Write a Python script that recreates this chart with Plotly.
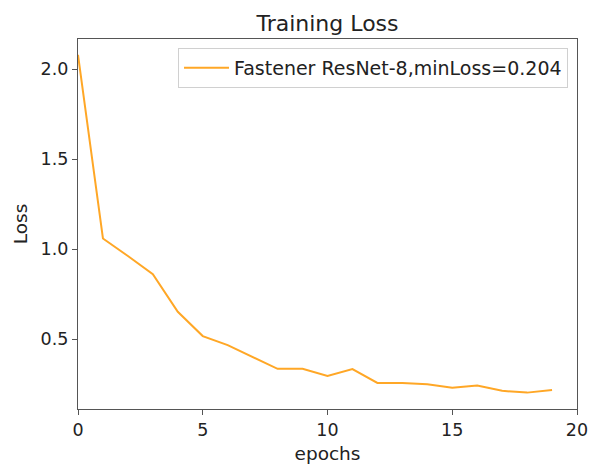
import plotly.graph_objects as go

epochs = list(range(20))
loss = [2.08, 1.06, 0.963, 0.862, 0.653, 0.518, 0.468, 0.403, 0.336, 0.336,
        0.296, 0.335, 0.258, 0.258, 0.251, 0.231, 0.244, 0.214, 0.204, 0.218]
series_name = "Fastener ResNet-8,minLoss=0.204"
x_ticks = [0, 5, 10, 15, 20]
y_ticks = [0.5, 1.0, 1.5, 2.0]

font = "DejaVu Sans"
fig = go.Figure()
fig.add_trace(go.Scatter(x=epochs, y=loss, mode="lines", name=series_name,
                         line=dict(color="#FFA726", width=2)))

axis_common = dict(showgrid=False, zeroline=False, showline=True, linecolor="#555",
                   linewidth=1.3, mirror=True, ticks="outside", ticklen=5,
                   tickcolor="#555", automargin=False,
                   tickfont=dict(family=font, size=17.5, color="#222"))
fig.update_xaxes(range=[0, 20], tickvals=x_ticks,
                 title=dict(text="epochs", font=dict(family=font, size=18.5, color="#222"), standoff=10),
                 **axis_common)
fig.update_yaxes(range=[0.113, 2.168], tickvals=y_ticks, ticktext=["0.5", "1.0", "1.5", "2.0"],
                 title=dict(text="Loss", font=dict(family=font, size=18.5, color="#222"), standoff=8),
                 **axis_common)
fig.update_layout(
    width=590, height=464,
    margin=dict(l=78, r=13, t=39, b=55),
    paper_bgcolor="white", plot_bgcolor="white",
    title=dict(text="Training Loss", x=0.5, xref="paper", xanchor="center",
               y=1, yref="paper", yanchor="bottom", pad=dict(b=8),
               font=dict(family=font, size=22, color="#222")),
    showlegend=True,
    legend=dict(x=0.982, y=0.976, xanchor="right", yanchor="top",
                bgcolor="white", bordercolor="#d0d0d0", borderwidth=1,
                itemwidth=45, tracegroupgap=0,
                font=dict(family=font, size=19, color="#222")),
)
fig.write_html("out.html")
